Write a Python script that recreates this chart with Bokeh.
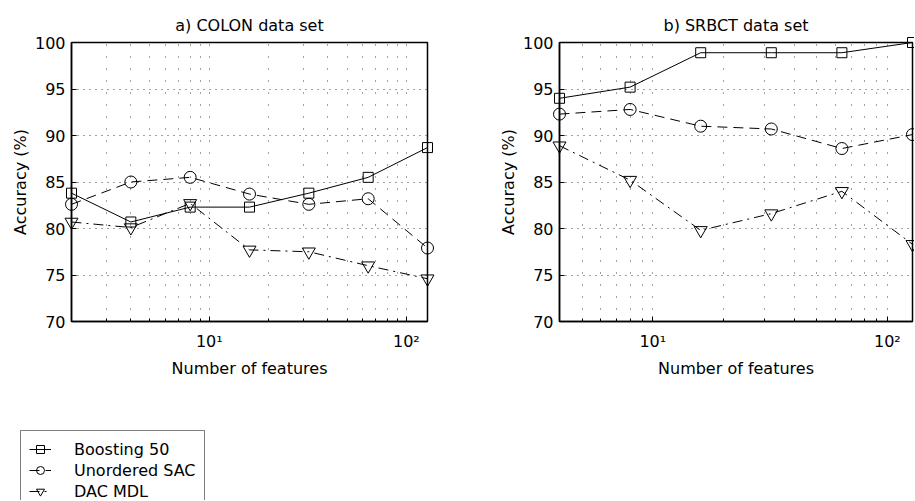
from bokeh.plotting import figure
from bokeh.models import Range1d, FixedTicker, Legend, LegendItem
from bokeh.layouts import row, column
from bokeh.embed import file_html
from bokeh.resources import INLINE

# ---------------- data ----------------
features_colon = [2, 4, 8, 16, 32, 64, 128]
colon_boosting = [83.8, 80.7, 82.3, 82.3, 83.8, 85.5, 88.7]
colon_sac = [82.6, 85.0, 85.5, 83.7, 82.6, 83.2, 77.9]
colon_dac = [80.7, 80.1, 82.7, 77.7, 77.5, 76.0, 74.6]

features_srbct = [4, 8, 16, 32, 64, 128]
srbct_boosting = [94.0, 95.2, 98.9, 98.9, 98.9, 100.0]
srbct_sac = [92.3, 92.8, 91.0, 90.7, 88.6, 90.1]
srbct_dac = [88.9, 85.2, 79.8, 81.6, 84.0, 78.3]

series_names = ["Boosting 50", "Unordered SAC", "DAC MDL"]
titles = ["a) COLON data set", "b) SRBCT data set"]
x_label = "Number of features"
y_label = "Accuracy (%)"
y_ticks = [70, 75, 80, 85, 90, 95, 100]
x_major = [10, 100]
x_minor = [2, 3, 4, 5, 6, 7, 8, 9, 20, 30, 40, 50, 60, 70, 80, 90]
x_labels = {10: "10\u00b9", 100: "10\u00b2"}

# ---------------- styles ----------------
FONT = "DejaVu Sans"
FS = "16px"
styles = [
    dict(dash="solid", marker="square", size=10),
    dict(dash="10 6", marker="circle", size=12),
    dict(dash="10 5 2 5", marker="inverted_triangle", size=13),
]


def panel(title, xs, series, x_start, x_end, frame_w, b_left, b_right, b_bottom):
    p = figure(
        x_axis_type="log",
        x_range=Range1d(x_start, x_end),
        y_range=Range1d(70, 100),
        frame_width=frame_w,
        frame_height=279,
        min_border_left=b_left,
        min_border_right=b_right,
        min_border_top=42,
        min_border_bottom=b_bottom,
        toolbar_location=None,
        output_backend="svg",
        title=title,
    )
    p.title.align = "center"
    p.title.text_font = FONT
    p.title.text_font_size = FS
    p.title.text_font_style = "normal"
    p.title.text_color = "black"
    p.title.standoff = 15

    p.outline_line_color = "black"
    p.outline_line_width = 1.5
    p.outline_line_alpha = 1.0
    p.background_fill_color = "white"
    p.border_fill_color = "white"

    for ax in (p.xaxis[0], p.yaxis[0]):
        ax.axis_line_color = "black"
        ax.axis_line_width = 1.5
        ax.major_tick_in = 5
        ax.major_tick_out = 0
        ax.minor_tick_in = 3
        ax.minor_tick_out = 0
        ax.major_tick_line_color = "black"
        ax.minor_tick_line_color = "black"
        ax.major_label_text_font = FONT
        ax.major_label_text_font_size = FS
        ax.major_label_text_color = "black"
        ax.axis_label_text_font = FONT
        ax.axis_label_text_font_size = FS
        ax.axis_label_text_font_style = "normal"
        ax.axis_label_text_color = "black"

    p.xaxis.ticker = FixedTicker(ticks=x_major, minor_ticks=x_minor)
    p.xaxis.major_label_overrides = x_labels
    p.xaxis.major_label_standoff = 10
    p.xaxis.axis_label = x_label
    p.xaxis.axis_label_standoff = 5

    p.yaxis.ticker = FixedTicker(ticks=y_ticks)
    p.yaxis.minor_tick_in = 0
    p.yaxis.axis_label = y_label
    p.yaxis.major_label_standoff = 6
    p.yaxis.axis_label_standoff = 2

    p.xgrid.grid_line_color = "#444444"
    p.xgrid.grid_line_dash = "1 11"
    p.xgrid.grid_line_width = 1
    p.xgrid.minor_grid_line_color = "#444444"
    p.xgrid.minor_grid_line_dash = "1 11"
    p.xgrid.minor_grid_line_width = 1
    p.ygrid.grid_line_color = "#444444"
    p.ygrid.grid_line_dash = "1 5"
    p.ygrid.grid_line_width = 1

    for ys, st in zip(series, styles):
        p.line(xs, ys, line_color="black", line_width=1, line_dash=st["dash"])
        p.scatter(xs, ys, marker=st["marker"], size=st["size"],
                  line_color="black", line_width=1, fill_color=None,
                  level="overlay")
    return p


# frame: x 71..427, y 42..321 ; canvas height 400
p1 = panel(titles[0], features_colon, [colon_boosting, colon_sac, colon_dac],
           2, 128, 356, 71, 53, 79)
# frame: x 559..912
p2 = panel(titles[1], features_srbct, [srbct_boosting, srbct_sac, srbct_dac],
           4, 128, 353, 79, 2, 79)

# ---------------- legend strip (y 400..500) ----------------
leg = figure(width=300, height=100, x_range=Range1d(0, 1), y_range=Range1d(0, 1),
             x_axis_location=None, y_axis_location=None,
             toolbar_location=None, output_backend="svg", min_border=0)
leg.grid.visible = False
leg.outline_line_color = None
leg.background_fill_color = "white"
leg.border_fill_color = "white"

items = []
# legend proxies: the COLON series, kept outside this strip's visible ranges
for name, ys, st in zip(series_names, [colon_boosting, colon_sac, colon_dac], styles):
    rl = leg.line(features_colon, ys, line_color="black", line_width=1,
                  line_dash=st["dash"])
    rs = leg.scatter(features_colon, ys, marker=st["marker"], size=st["size"] - 2,
                     line_color="black", line_width=1, fill_color=None)
    items.append(LegendItem(label=name, renderers=[rl, rs]))

# box left at x=20, top at y=432 (32 px below the strip's top)
legend = Legend(items=items, location=(20, 100 - 32 - 78))
legend.margin = 0
legend.padding = 8
legend.spacing = 1
legend.glyph_width = 22
legend.glyph_height = 20
legend.label_height = 20
legend.label_standoff = 23
legend.label_text_font = FONT
legend.label_text_font_size = FS
legend.label_text_color = "black"
legend.border_line_color = "black"
legend.border_line_width = 1
legend.background_fill_color = "white"
legend.background_fill_alpha = 1.0
leg.add_layout(legend)

layout = column(row(p1, p2), leg)

open("out.html", "w").write(file_html(layout, INLINE))
